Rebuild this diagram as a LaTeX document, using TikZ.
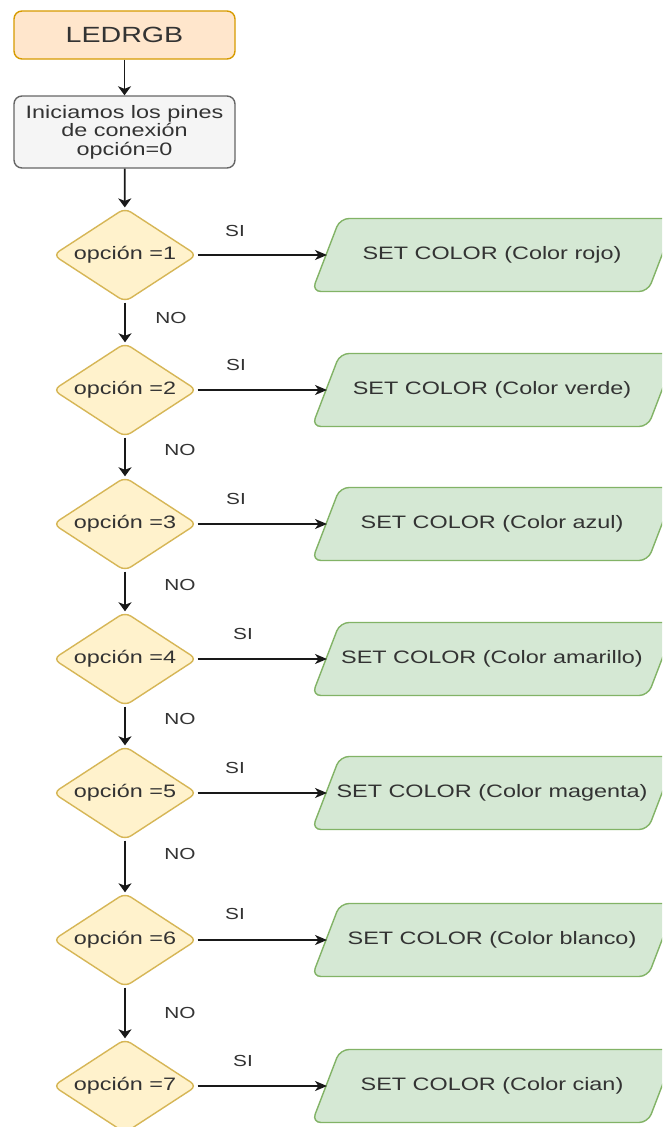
\documentclass[tikz,border=0pt]{standalone}
\usepackage{fontspec}
\setmainfont{Liberation Sans}[FakeStretch=1.3]
\usetikzlibrary{shapes.geometric,arrows.meta}
\definecolor{orfill}{HTML}{FFE6CC}
\definecolor{ordraw}{HTML}{D79B00}
\definecolor{gyfill}{HTML}{F5F5F5}
\definecolor{gydraw}{HTML}{666666}
\definecolor{gytext}{HTML}{333333}
\definecolor{ylfill}{HTML}{FFF2CC}
\definecolor{yldraw}{HTML}{D6B656}
\definecolor{grfill}{HTML}{D5E8D4}
\definecolor{grdraw}{HTML}{82B366}
\begin{document}
\begin{tikzpicture}[x=1pt,y=-1pt,
 startbox/.style={draw=ordraw, fill=orfill, rounded corners=8pt, line width=1.4pt, minimum width=221pt, minimum height=48pt, font=\fontsize{22}{26}\selectfont, text=gytext},
 initbox/.style={draw=gydraw, fill=gyfill, rounded corners=8pt, line width=1.4pt, minimum width=221pt, minimum height=72pt, align=center, font=\fontsize{18}{18.5}\selectfont, text=gytext, inner sep=0pt},
 decision/.style={diamond, aspect=1.5, draw=yldraw, fill=ylfill, rounded corners=7pt, line width=1.4pt, minimum width=144pt, minimum height=94pt, inner sep=0pt, font=\fontsize{18}{21}\selectfont, text=gytext},
 parabox/.style={draw=grdraw, fill=grfill, rounded corners=9pt, line width=1.4pt},
 settext/.style={inner sep=0pt, font=\fontsize{18}{21}\selectfont, text=gytext},
 lbl/.style={font=\fontsize{16}{19}\selectfont, text=gytext, inner sep=0pt},
 varr/.style={-{Stealth[length=9pt,width=13pt,inset=2.5pt]}, line width=1.8pt, black!90},
 harr/.style={-{Stealth[length=12pt,width=10pt,inset=3.5pt]}, line width=1.4pt, black!90}
]
\clip (0,0) rectangle (662,1127);
\fill[white] (0,0) rectangle (662,1127);
\node[startbox] (start) at (124.5,35) {LEDRGB};
\node[initbox] (init) at (124.5,132) {Iniciamos los pines\\de conexión\\opción=0};
\foreach \i/\y/\c/\sx/\sy in {1/255/rojo/235/231, 2/390/verde/236/365, 3/524/azul/236/499, 4/659/amarillo/243/634, 5/793/magenta/235/768, 6/940/blanco/235/914, 7/1086/cian/243/1061}{
  \node[decision] (d\i) at (125,\y) {opción =\i};
  \path[parabox] (312,\y+36.5) -- (340,\y-36.5) -- (676,\y-36.5) -- (648,\y+36.5) -- cycle;
  \node[settext] (s\i) at (492,\y) {SET COLOR (Color \c)};
  \coordinate (e\i) at (327,\y);
  \node[lbl] (si\i) at (\sx,\sy) {SI};
  \draw[harr] (d\i) -- (e\i);
}
\foreach \i/\x/\y in {1/171/318, 2/180/450, 3/180/585, 4/180/719, 5/180/854, 6/180/1013}{
  \node[lbl] (no\i) at (\x,\y) {NO};
}
\draw[varr] (start) -- (init);
\draw[varr] (init) -- (d1);
\foreach \i [evaluate=\i as \j using int(\i+1)] in {1,...,6}{
  \draw[varr] (d\i) -- (d\j);
}
\end{tikzpicture}
\end{document}
